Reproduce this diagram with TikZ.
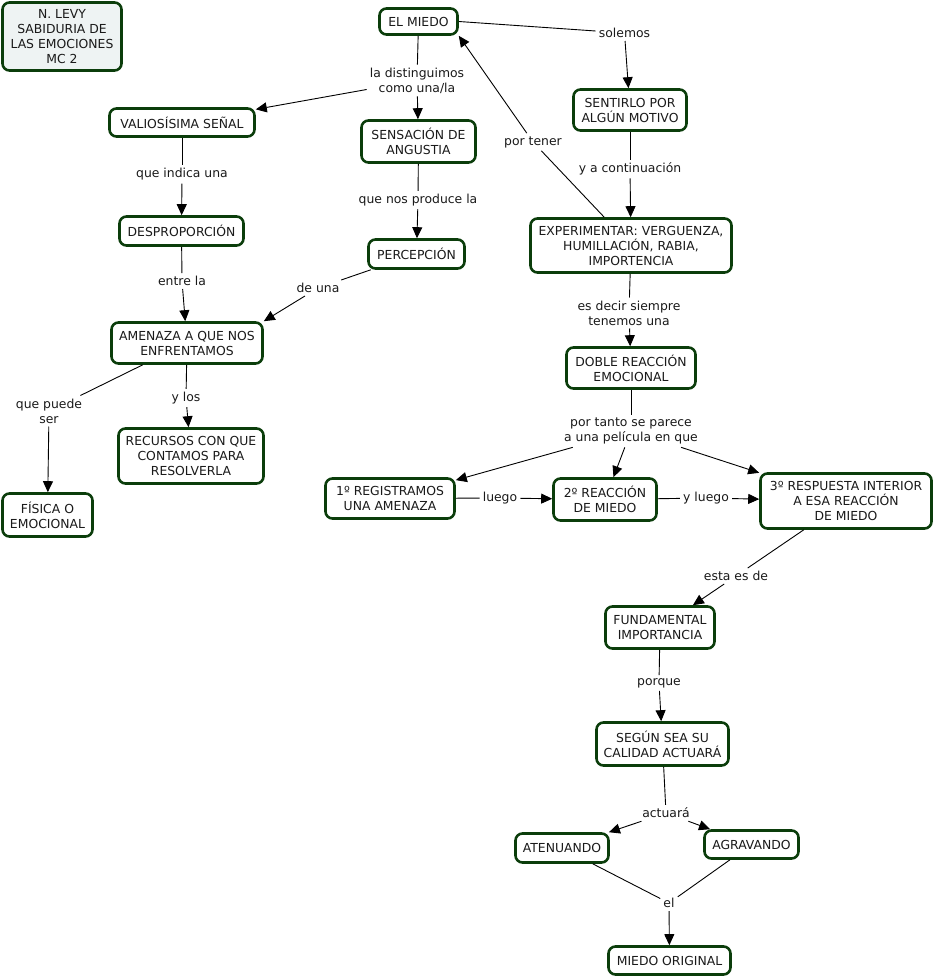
\documentclass[tikz,border=0pt]{standalone}
\usepackage{fontspec}
\setmainfont{DejaVu Sans}
\usetikzlibrary{arrows.meta}
\definecolor{bord}{HTML}{0B3D0B}
\definecolor{txt}{HTML}{1A1A1A}
\definecolor{titlefill}{HTML}{EEF3F3}
\begin{document}
\begin{tikzpicture}[x=1pt,y=-1pt,
  box/.style={draw=bord, line width=2.6pt, rounded corners=7pt, fill=white, align=center,
              font=\fontsize{12.4}{15}\selectfont, text=txt, inner sep=2pt},
  lab/.style={align=center, font=\fontsize{12.4}{15}\selectfont, text=txt, inner sep=3pt},
  con/.style={line width=0.9pt, draw=black},
  arr/.style={con, -{Triangle[length=11pt,width=10pt]}}]
\useasboundingbox[fill=white] (0,0) rectangle (935,977);

% boxes
\node[box, fill=titlefill, minimum width=119pt, minimum height=68pt] (title) at (62,36.5) {N. LEVY\\SABIDURIA DE\\LAS EMOCIONES\\MC 2};
\node[box, minimum width=78pt, minimum height=26pt] (elmiedo) at (418.5,21.5) {EL MIEDO};
\node[box, minimum width=145pt, minimum height=28pt] (valiosisima) at (182,122.5) {VALIOSÍSIMA SEÑAL};
\node[box, minimum width=114pt, minimum height=42pt] (sensacion) at (418.5,141.5) {SENSACIÓN DE\\ANGUSTIA};
\node[box, minimum width=113pt, minimum height=41pt] (sentirlo) at (630,110) {SENTIRLO POR\\ALGÚN MOTIVO};
\node[box, minimum width=124pt, minimum height=29pt] (desproporcion) at (181.5,231) {DESPROPORCIÓN};
\node[box, minimum width=96pt, minimum height=29pt] (percepcion) at (416.5,254) {PERCEPCIÓN};
\node[box, minimum width=201pt, minimum height=54pt] (experimentar) at (631,245.5) {EXPERIMENTAR: VERGUENZA,\\HUMILLACIÓN, RABIA,\\IMPORTENCIA};
\node[box, minimum width=151pt, minimum height=41pt] (amenaza) at (187,343) {AMENAZA A QUE NOS\\ENFRENTAMOS};
\node[box, minimum width=129pt, minimum height=41pt] (doble) at (631,368) {DOBLE REACCIÓN\\EMOCIONAL};
\node[box, minimum width=145pt, minimum height=55pt] (recursos) at (191,456) {RECURSOS CON QUE\\CONTAMOS PARA\\RESOLVERLA};
\node[box, minimum width=90pt, minimum height=43pt] (fisica) at (47.5,515) {FÍSICA O\\EMOCIONAL};
\node[box, minimum width=129pt, minimum height=40pt] (registramos) at (390,498.5) {1º REGISTRAMOS\\UNA AMENAZA};
\node[box, minimum width=103pt, minimum height=42pt] (reaccion2) at (605,499.5) {2º REACCIÓN\\DE MIEDO};
\node[box, minimum width=171pt, minimum height=55pt] (respuesta3) at (846,501) {3º RESPUESTA INTERIOR\\A ESA REACCIÓN\\DE MIEDO};
\node[box, minimum width=109pt, minimum height=42pt] (fundamental) at (660,627.5) {FUNDAMENTAL\\IMPORTANCIA};
\node[box, minimum width=132pt, minimum height=43pt] (segun) at (662.5,744) {SEGÚN SEA SU\\CALIDAD ACTUARÁ};
\node[box, minimum width=93pt, minimum height=29pt] (atenuando) at (562,848) {ATENUANDO};
\node[box, minimum width=94pt, minimum height=28pt] (agravando) at (751.5,844.5) {AGRAVANDO};
\node[box, minimum width=122pt, minimum height=28pt] (miedoorig) at (669.5,960.5) {MIEDO ORIGINAL};

% linking phrases
\node[lab] (ldist) at (417,80.5) {la distinguimos\\como una/la};
\node[lab] (solemos) at (624.5,33) {solemos};
\node[lab] (lindica) at (182,174.5) {que indica una};
\node[lab] (lproduce) at (418,200) {que nos produce la};
\node[lab] (ltener) at (533,142) {por tener};
\node[lab] (lcontinua) at (630,169) {y a continuación};
\node[lab] (lentre) at (182,281) {entre la};
\node[lab] (ldeuna) at (318,288) {de una};
\node[lab] (ldecir) at (629,313) {es decir siempre\\tenemos una};
\node[lab] (lpuede) at (49,411) {que puede\\ser};
\node[lab] (ylos) at (186,398) {y los};
\node[lab] (ltanto) at (631,431) {por tanto se parece\\a una película en que};
\node[lab] (lluego) at (500,498) {luego};
\node[lab] (lyluego) at (706,498) {y luego};
\node[lab] (lesta) at (736,576) {esta es de};
\node[lab] (lporque) at (659,683) {porque};
\node[lab] (lactuara) at (666,813) {actuará};
\node[lab] (lel) at (669,903) {el};

% connectors
\draw[con] (elmiedo) -- (ldist);
\draw[arr] (ldist) -- (valiosisima);
\draw[arr] (ldist) -- (sensacion);
\draw[con] (elmiedo.east) -- (solemos);
\draw[arr] (solemos) -- (sentirlo);
\draw[con] (valiosisima) -- (lindica);
\draw[arr] (lindica) -- (desproporcion);
\draw[con] (sensacion) -- (lproduce);
\draw[arr] (lproduce) -- (percepcion);
\draw[con] (sentirlo) -- (lcontinua);
\draw[arr] (lcontinua) -- (experimentar);
\draw[con] (experimentar) -- (ltener);
\draw[arr] (ltener) -- (elmiedo.south east);
\draw[con] (desproporcion) -- (lentre);
\draw[arr] (lentre) -- (amenaza);
\draw[con] (percepcion) -- (ldeuna);
\draw[arr] (ldeuna) -- (amenaza.north east);
\draw[con] (experimentar) -- (ldecir);
\draw[arr] (ldecir) -- (doble);
\draw[con] (amenaza) -- (lpuede);
\draw[arr] (lpuede) -- (fisica);
\draw[con] (amenaza) -- (ylos);
\draw[arr] (ylos) -- (recursos);
\draw[con] (doble) -- (ltanto);
\draw[arr] (ltanto) -- (registramos);
\draw[arr] (ltanto) -- (reaccion2);
\draw[arr] (ltanto) -- (respuesta3);
\draw[con] (registramos) -- (lluego);
\draw[arr] (lluego) -- (reaccion2);
\draw[con] (reaccion2) -- (lyluego);
\draw[arr] (lyluego) -- (respuesta3);
\draw[con] (respuesta3) -- (lesta);
\draw[arr] (lesta) -- (fundamental);
\draw[con] (fundamental) -- (lporque);
\draw[arr] (lporque) -- (segun);
\draw[con] (segun) -- (lactuara);
\draw[arr] (lactuara) -- (atenuando);
\draw[arr] (lactuara) -- (agravando);
\draw[con] (atenuando) -- (lel);
\draw[con] (agravando) -- (lel);
\draw[arr] (lel) -- (miedoorig);
\end{tikzpicture}
\end{document}
